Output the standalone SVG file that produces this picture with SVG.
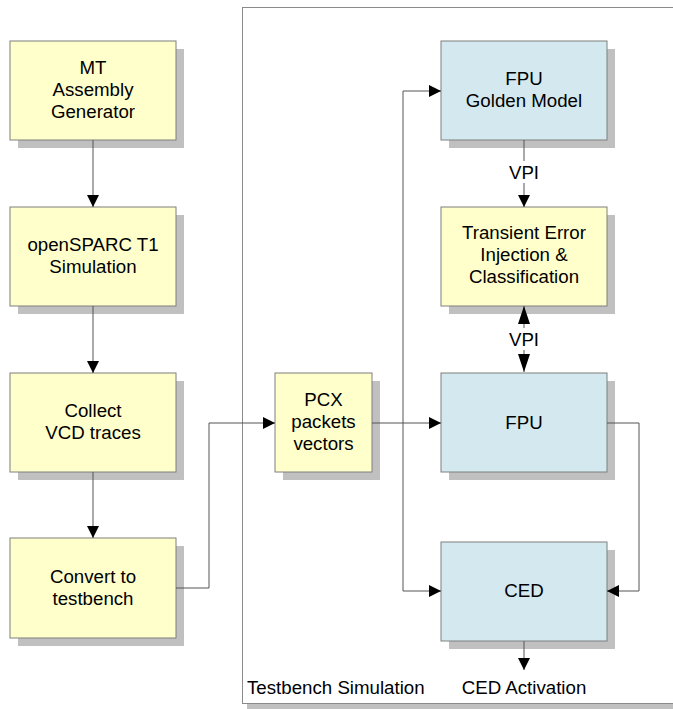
<svg xmlns="http://www.w3.org/2000/svg" width="673" height="709" viewBox="0 0 673 709">
  <style>
    .shadow { fill: #c0c0c0; }
    .box { stroke: #7f7f7f; stroke-width: 1; }
    .tool { fill: #ffffcc; }
    .hw { fill: #d3e9ef; }
    .lbl { font-family: "Liberation Sans", Arial, sans-serif; font-size: 18.7px; fill: #000; text-anchor: middle; }
    .conn { fill: none; stroke: #555; stroke-width: 1; }
  </style>
  <defs>
    <marker id="arrow" markerUnits="userSpaceOnUse" markerWidth="12" markerHeight="12" refX="12" refY="6" orient="auto-start-reverse">
      <path d="M0,0 L12,6 L0,12 Z" fill="#000"/>
    </marker>
    <marker id="arrowLong" markerUnits="userSpaceOnUse" markerWidth="18" markerHeight="12" refX="18" refY="6" orient="auto-start-reverse">
      <path d="M0,0 L18,6 L0,12 Z" fill="#000"/>
    </marker>
  </defs>

  <rect width="673" height="709" fill="#fff"/>

  <!-- Testbench simulation frame -->
  <g id="testbench-frame">
    <rect x="247" y="12" width="430" height="697" class="shadow"/>
    <rect x="242.5" y="7.5" width="440" height="696" fill="#fff" stroke="#8a8a8a"/>
    <text x="247" y="694" class="lbl" style="text-anchor:start">Testbench Simulation</text>
  </g>

  <!-- Tool flow nodes -->
  <g id="mt-generator">
    <rect x="18" y="49" width="166" height="99" class="shadow"/>
    <rect x="10" y="41" width="166" height="99" class="box tool"/>
    <text x="93" y="74" class="lbl">MT</text>
    <text x="93" y="96" class="lbl">Assembly</text>
    <text x="93" y="118" class="lbl">Generator</text>
  </g>
  <g id="opensparc-sim">
    <rect x="18" y="215" width="166" height="99" class="shadow"/>
    <rect x="10" y="207" width="166" height="99" class="box tool"/>
    <text x="93" y="251" class="lbl">openSPARC T1</text>
    <text x="93" y="273" class="lbl">Simulation</text>
  </g>
  <g id="collect-vcd">
    <rect x="18" y="381" width="166" height="99" class="shadow"/>
    <rect x="10" y="373" width="166" height="99" class="box tool"/>
    <text x="93" y="417" class="lbl">Collect</text>
    <text x="93" y="439" class="lbl">VCD traces</text>
  </g>
  <g id="convert-testbench">
    <rect x="18" y="546" width="166" height="100" class="shadow"/>
    <rect x="10" y="538" width="166" height="100" class="box tool"/>
    <text x="93" y="583" class="lbl">Convert to</text>
    <text x="93" y="605" class="lbl">testbench</text>
  </g>
  <g id="pcx-vectors">
    <rect x="283" y="381" width="97" height="99" class="shadow"/>
    <rect x="275" y="373" width="97" height="99" class="box tool"/>
    <text x="323.5" y="406" class="lbl">PCX</text>
    <text x="323.5" y="428" class="lbl">packets</text>
    <text x="323.5" y="450" class="lbl">vectors</text>
  </g>

  <!-- Hardware nodes -->
  <g id="fpu-golden">
    <rect x="449" y="49" width="166" height="99" class="shadow"/>
    <rect x="441" y="41" width="166" height="99" class="box hw"/>
    <text x="524" y="85" class="lbl">FPU</text>
    <text x="524" y="107" class="lbl">Golden Model</text>
  </g>
  <g id="error-injection">
    <rect x="449" y="215" width="166" height="99" class="shadow"/>
    <rect x="441" y="207" width="166" height="99" class="box tool"/>
    <text x="524" y="239" class="lbl">Transient Error</text>
    <text x="524" y="261" class="lbl">Injection &amp;</text>
    <text x="524" y="283" class="lbl">Classification</text>
  </g>
  <g id="fpu">
    <rect x="449" y="381" width="166" height="99" class="shadow"/>
    <rect x="441" y="373" width="166" height="99" class="box hw"/>
    <text x="524" y="429" class="lbl">FPU</text>
  </g>
  <g id="ced">
    <rect x="449" y="550" width="166" height="99" class="shadow"/>
    <rect x="441" y="542" width="166" height="99" class="box hw"/>
    <text x="524" y="597" class="lbl">CED</text>
  </g>

  <!-- Connectors -->
  <g id="connectors">
    <line x1="93" y1="140" x2="93" y2="207" class="conn" marker-end="url(#arrow)"/>
    <line x1="93" y1="306" x2="93" y2="373" class="conn" marker-end="url(#arrow)"/>
    <line x1="93" y1="472" x2="93" y2="538" class="conn" marker-end="url(#arrow)"/>
    <polyline points="176,588 209,588 209,423 275,423" class="conn" marker-end="url(#arrow)"/>
    <line x1="372" y1="423" x2="441" y2="423" class="conn" marker-end="url(#arrow)"/>
    <polyline points="441,91 403,91 403,591 441,591" class="conn" marker-start="url(#arrow)" marker-end="url(#arrow)"/>
    <polyline points="607,423 639,423 639,591 607,591" class="conn" marker-end="url(#arrow)"/>
    <line x1="524" y1="140" x2="524" y2="161" class="conn"/>
    <line x1="524" y1="183" x2="524" y2="207" class="conn" marker-end="url(#arrow)"/>
    <text x="524" y="179" class="lbl">VPI</text>
    <line x1="524" y1="306" x2="524" y2="328" class="conn" marker-start="url(#arrowLong)"/>
    <line x1="524" y1="350" x2="524" y2="372" class="conn" marker-end="url(#arrowLong)"/>
    <text x="524" y="346" class="lbl">VPI</text>
    <line x1="524" y1="641" x2="524" y2="670" class="conn" marker-end="url(#arrow)"/>
    <text x="524" y="694" class="lbl">CED Activation</text>
  </g>
</svg>
